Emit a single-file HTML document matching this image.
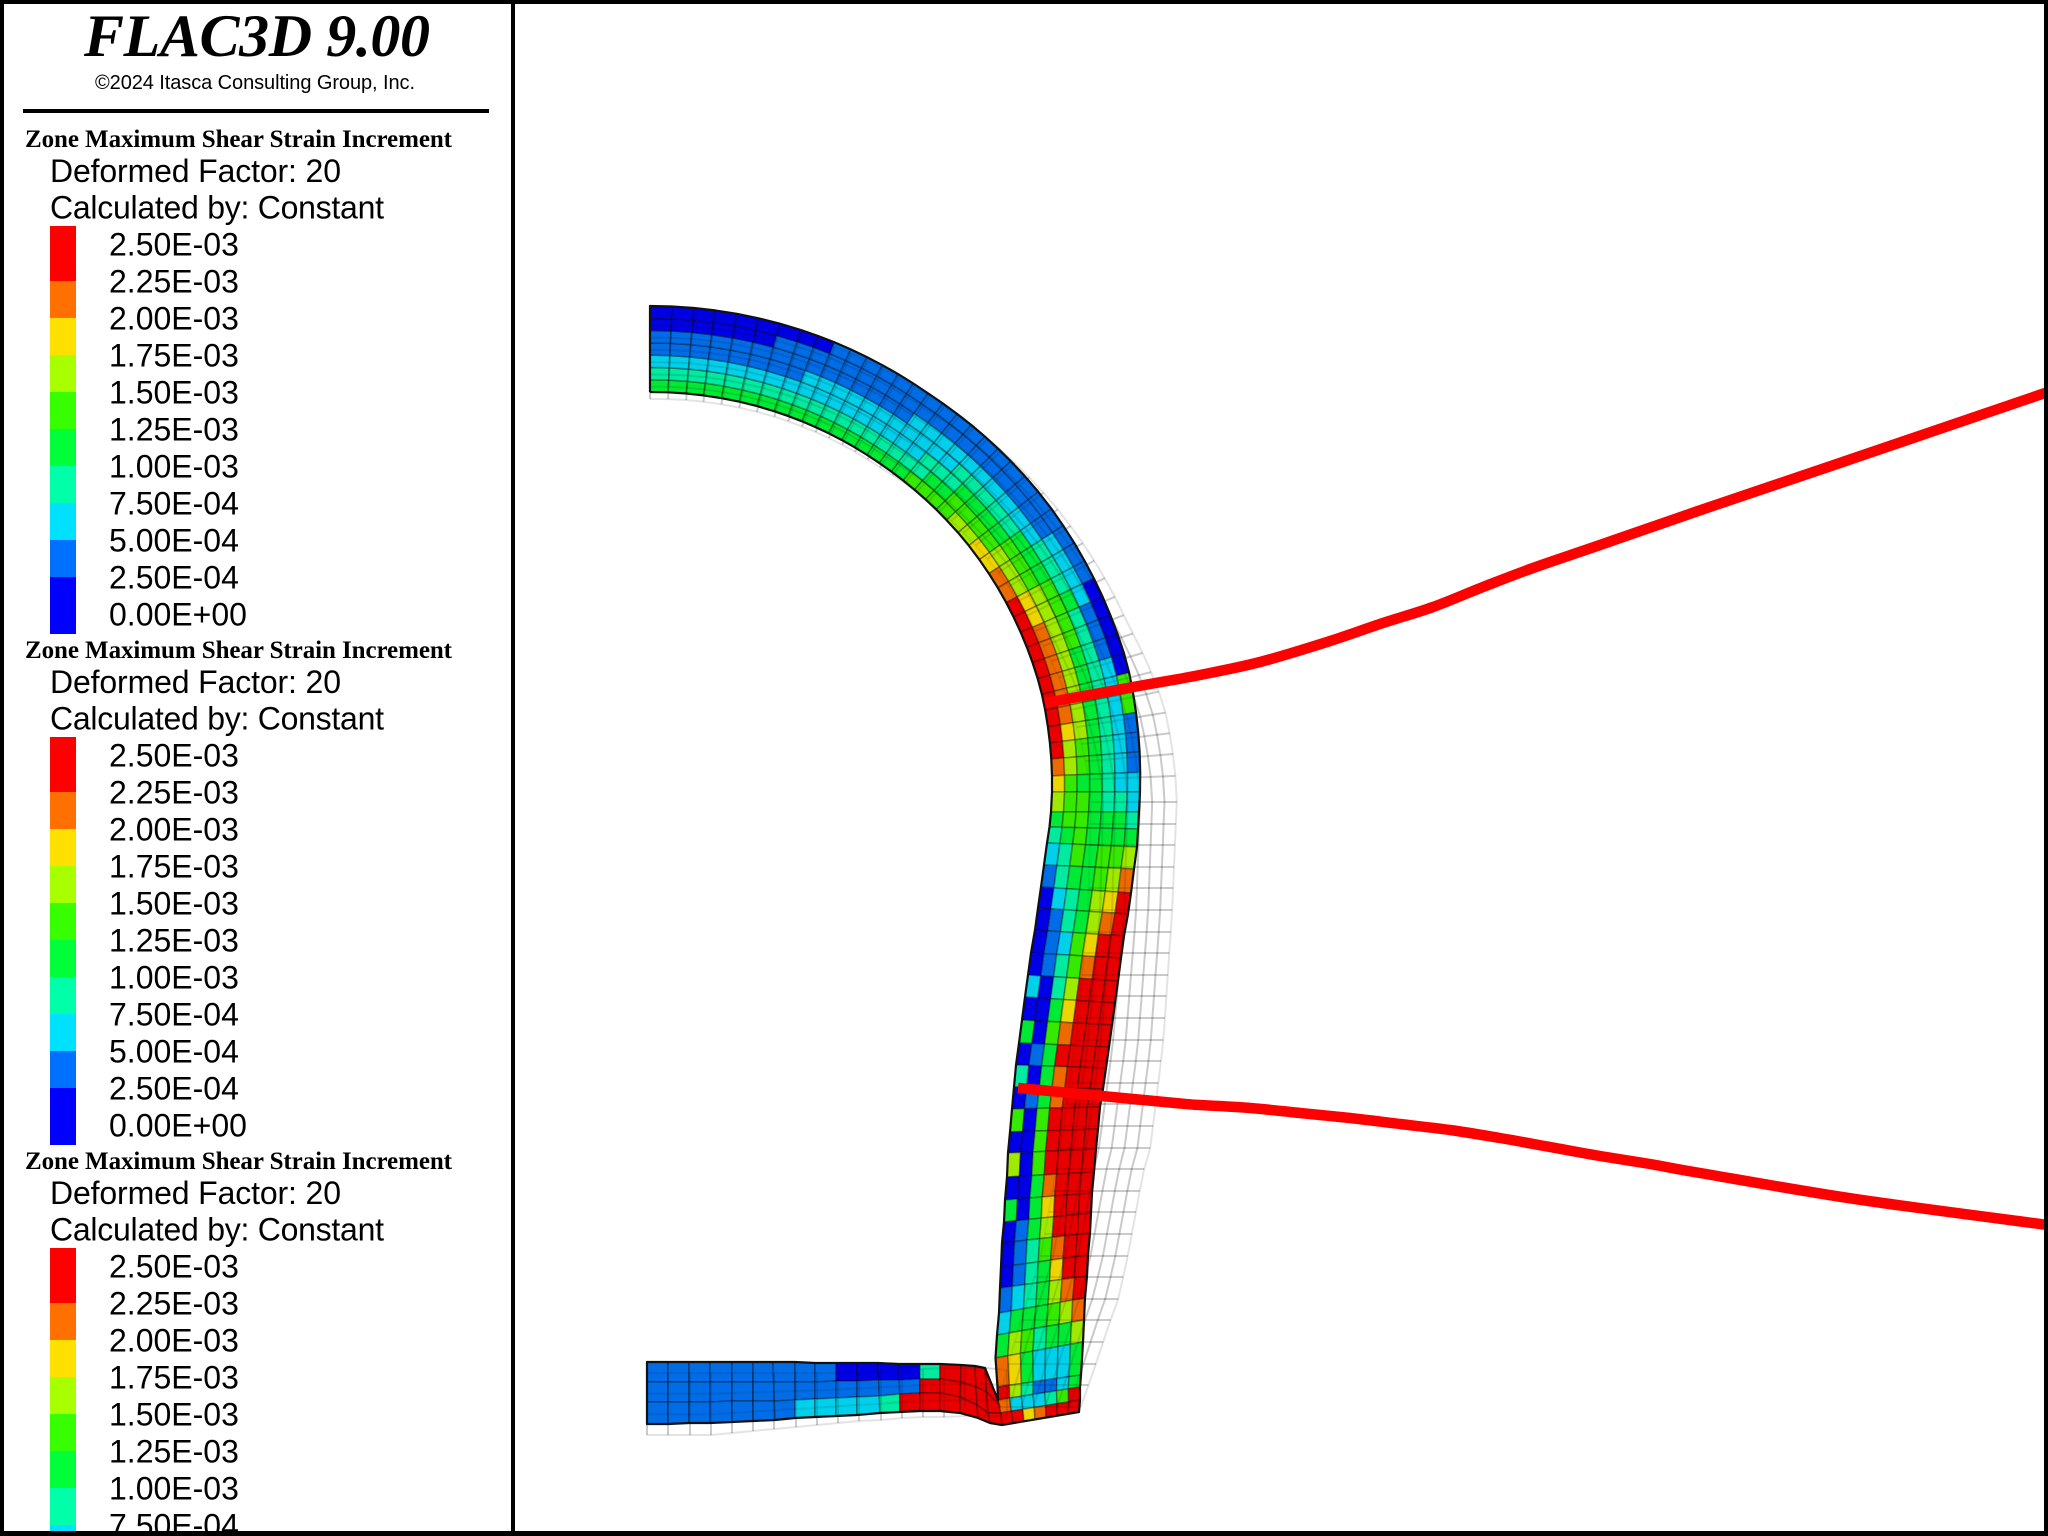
<!DOCTYPE html>
<html lang="en">
<head>
<meta charset="utf-8">
<title>FLAC3D Zone Maximum Shear Strain Increment</title>
<style>
  html, body { margin: 0; padding: 0; background: #fff; }
  #page { position: relative; width: 2048px; height: 1536px; overflow: hidden; background: #fff; }
  svg { position: absolute; left: 0; top: 0; display: block; }
  .sans { font-family: "Liberation Sans", sans-serif; fill: #000; }
  .serif { font-family: "Liberation Serif", serif; fill: #000; }
  .head { font-size: 25px; font-weight: bold; }
  .info { font-size: 32px; }
  .tick { font-size: 32px; }
</style>
</head>
<body>
<div id="page">
<svg id="plot" width="2048" height="1536" viewBox="0 0 2048 1536">
  <g id="ghost-back-layer"></g>
  <g id="zone-layer"></g>
  <g id="ghost-layer"></g>
  <g id="outline-layer"></g>
  <g id="cable-layer"></g>

  <rect x="4" y="4" width="507" height="1527" fill="#fff"/>
  <text class="serif" x="84" y="56" font-size="60" font-weight="bold" font-style="italic" textLength="346" lengthAdjust="spacing">FLAC3D 9.00</text>
  <text class="sans" x="95" y="89" font-size="20" textLength="320" lengthAdjust="spacing">©2024 Itasca Consulting Group, Inc.</text>
  <rect x="23" y="109" width="466" height="4" fill="#000"/>

  <g>
    <text class="serif head" x="25" y="147" textLength="427" lengthAdjust="spacing">Zone Maximum Shear Strain Increment</text>
    <text class="sans info" x="50" y="182" textLength="291" lengthAdjust="spacing">Deformed Factor: 20</text>
    <text class="sans info" x="50" y="218.5" textLength="334" lengthAdjust="spacing">Calculated by: Constant</text>
    <rect x="50" y="226" width="26" height="55" fill="#ff0000"/>
    <rect x="50" y="281" width="26" height="37" fill="#ff7000"/>
    <rect x="50" y="318" width="26" height="37" fill="#ffe000"/>
    <rect x="50" y="355" width="26" height="37" fill="#a8ff00"/>
    <rect x="50" y="392" width="26" height="37" fill="#38ff00"/>
    <rect x="50" y="429" width="26" height="37" fill="#00ff38"/>
    <rect x="50" y="466" width="26" height="37" fill="#00ffa8"/>
    <rect x="50" y="503" width="26" height="37" fill="#00e0ff"/>
    <rect x="50" y="540" width="26" height="37" fill="#0070ff"/>
    <rect x="50" y="577" width="26" height="57" fill="#0000ff"/>
    <text class="sans tick" x="109" y="255.5">2.50E-03</text>
    <text class="sans tick" x="109" y="292.5">2.25E-03</text>
    <text class="sans tick" x="109" y="329.5">2.00E-03</text>
    <text class="sans tick" x="109" y="366.5">1.75E-03</text>
    <text class="sans tick" x="109" y="403.5">1.50E-03</text>
    <text class="sans tick" x="109" y="440.5">1.25E-03</text>
    <text class="sans tick" x="109" y="477.5">1.00E-03</text>
    <text class="sans tick" x="109" y="514.5">7.50E-04</text>
    <text class="sans tick" x="109" y="551.5">5.00E-04</text>
    <text class="sans tick" x="109" y="588.5">2.50E-04</text>
    <text class="sans tick" x="109" y="625.5">0.00E+00</text>
  </g>

  <g transform="translate(0,511)">
    <text class="serif head" x="25" y="147" textLength="427" lengthAdjust="spacing">Zone Maximum Shear Strain Increment</text>
    <text class="sans info" x="50" y="182" textLength="291" lengthAdjust="spacing">Deformed Factor: 20</text>
    <text class="sans info" x="50" y="218.5" textLength="334" lengthAdjust="spacing">Calculated by: Constant</text>
    <rect x="50" y="226" width="26" height="55" fill="#ff0000"/>
    <rect x="50" y="281" width="26" height="37" fill="#ff7000"/>
    <rect x="50" y="318" width="26" height="37" fill="#ffe000"/>
    <rect x="50" y="355" width="26" height="37" fill="#a8ff00"/>
    <rect x="50" y="392" width="26" height="37" fill="#38ff00"/>
    <rect x="50" y="429" width="26" height="37" fill="#00ff38"/>
    <rect x="50" y="466" width="26" height="37" fill="#00ffa8"/>
    <rect x="50" y="503" width="26" height="37" fill="#00e0ff"/>
    <rect x="50" y="540" width="26" height="37" fill="#0070ff"/>
    <rect x="50" y="577" width="26" height="57" fill="#0000ff"/>
    <text class="sans tick" x="109" y="255.5">2.50E-03</text>
    <text class="sans tick" x="109" y="292.5">2.25E-03</text>
    <text class="sans tick" x="109" y="329.5">2.00E-03</text>
    <text class="sans tick" x="109" y="366.5">1.75E-03</text>
    <text class="sans tick" x="109" y="403.5">1.50E-03</text>
    <text class="sans tick" x="109" y="440.5">1.25E-03</text>
    <text class="sans tick" x="109" y="477.5">1.00E-03</text>
    <text class="sans tick" x="109" y="514.5">7.50E-04</text>
    <text class="sans tick" x="109" y="551.5">5.00E-04</text>
    <text class="sans tick" x="109" y="588.5">2.50E-04</text>
    <text class="sans tick" x="109" y="625.5">0.00E+00</text>
  </g>

  <g transform="translate(0,1022)">
    <text class="serif head" x="25" y="147" textLength="427" lengthAdjust="spacing">Zone Maximum Shear Strain Increment</text>
    <text class="sans info" x="50" y="182" textLength="291" lengthAdjust="spacing">Deformed Factor: 20</text>
    <text class="sans info" x="50" y="218.5" textLength="334" lengthAdjust="spacing">Calculated by: Constant</text>
    <rect x="50" y="226" width="26" height="55" fill="#ff0000"/>
    <rect x="50" y="281" width="26" height="37" fill="#ff7000"/>
    <rect x="50" y="318" width="26" height="37" fill="#ffe000"/>
    <rect x="50" y="355" width="26" height="37" fill="#a8ff00"/>
    <rect x="50" y="392" width="26" height="37" fill="#38ff00"/>
    <rect x="50" y="429" width="26" height="37" fill="#00ff38"/>
    <rect x="50" y="466" width="26" height="37" fill="#00ffa8"/>
    <rect x="50" y="503" width="26" height="37" fill="#00e0ff"/>
    <text class="sans tick" x="109" y="255.5">2.50E-03</text>
    <text class="sans tick" x="109" y="292.5">2.25E-03</text>
    <text class="sans tick" x="109" y="329.5">2.00E-03</text>
    <text class="sans tick" x="109" y="366.5">1.75E-03</text>
    <text class="sans tick" x="109" y="403.5">1.50E-03</text>
    <text class="sans tick" x="109" y="440.5">1.25E-03</text>
    <text class="sans tick" x="109" y="477.5">1.00E-03</text>
    <text class="sans tick" x="109" y="514.5">7.50E-04</text>
  </g>

  <rect x="0" y="0" width="2048" height="4" fill="#000"/>
  <rect x="0" y="1531" width="2048" height="5" fill="#000"/>
  <rect x="0" y="0" width="4" height="1536" fill="#000"/>
  <rect x="2044" y="0" width="4" height="1536" fill="#000"/>
  <rect x="511" y="0" width="4" height="1536" fill="#000"/>
</svg>
</div>
<script>
// Colour level per contour band (0 = 0.00E+00 band ... 9 = 2.50E-03 band)
const levelColors = ['#0000e6','#006ce6','#00d0ea','#00eaa0','#00ea35','#35ea00','#a0ea00','#ecd500','#ec6a00','#e80000'];

// Zone values along the arch: each row runs inner face to outer face
const archLevels = [
[4,3,2,1,1,0,0],[4,3,2,1,1,0,0],[4,3,2,1,1,0,0],[4,3,2,1,1,0,0],[4,3,2,1,1,0,0],[4,3,2,1,1,0,0],
[4,3,2,1,1,1,0],[4,3,2,1,1,1,0],[4,3,2,2,1,1,0],
[4,3,2,2,1,1,1],[4,3,2,2,1,1,1],[4,3,2,2,1,1,1],[4,3,2,2,1,1,1],[4,3,2,2,1,1,1],[4,3,2,2,1,1,1],
[4,3,2,2,2,1,1],[4,3,2,2,2,1,1],[5,3,3,2,2,1,1],[5,4,3,2,2,1,1],[5,4,3,3,2,1,1],[5,5,4,3,2,1,1],
[6,5,4,3,2,1,1],[6,5,4,3,2,1,1],[7,5,4,3,2,1,1],[7,6,5,4,2,1,1],[8,6,5,4,3,2,1],[8,6,5,4,3,2,1],
[9,7,6,5,3,2,1],[9,7,6,5,4,2,0],[9,8,6,5,3,1,0],[9,8,6,5,3,1,0],[9,8,6,4,3,1,0],[9,8,6,4,3,2,0],
[9,8,6,4,3,2,5],[9,8,6,4,3,2,5],[9,7,6,4,3,2,1],[9,6,5,4,3,2,1],[8,6,5,4,3,2,1],[7,5,4,4,3,2,2]
];
// Zone values down the wall
const wallLevels = [
[6,5,5,4,3,3,2],[4,5,5,4,4,4,3],[3,4,5,4,4,4,4],[2,3,5,4,5,5,6],[1,3,4,4,5,6,8],[0,2,3,4,6,7,9],
[0,1,3,4,6,8,9],[0,1,2,5,7,9,9],[0,1,3,5,8,9,9],[2,0,3,6,9,9,9],[0,0,4,7,9,9,9],[4,0,5,8,9,9,9],
[0,1,4,9,9,9,9],[3,0,4,8,9,9,9],[0,1,4,8,9,9,9],[5,0,5,9,9,9,9],[0,0,5,9,9,9,9],[6,0,5,9,9,9,9],
[0,0,4,8,9,9,9],[4,0,4,7,9,9,9],[0,1,4,6,9,9,9],[0,1,3,5,8,9,9],[0,1,3,4,7,9,9],[1,2,3,4,6,8,9],
[2,4,4,4,5,6,8],[4,6,5,3,4,4,6],[8,7,4,2,2,2,4],[9,6,3,1,1,2,4],[8,2,2,2,3,5,9],[9,9,7,8,9,9,9]
];
// Zone values in the invert (top, middle, bottom rows; left to right)
const footLevelsTop = [1,1,1,1,1,1,1,1,1,0,0,0,0,3,9,9,9,9];
const footLevelsMid = [1,1,1,1,1,1,1,1,1,1,1,1,1,9,9,9,9,9];
const footLevelsLow = [1,1,1,1,1,1,1,2,2,2,2,3,9,9,9,9,9,9];

// Deformed mesh geometry, model units
const archAngles = [0,2.6,5.2,7.7,10.3,12.9,15.5,18.1,20.2,22.3,24.4,26.5,28.6,30.7,32.8,34.9,37,39.1,41.2,43.3,45.4,47.5,49.9,52.3,54.8,57.2,59.6,62,64.3,66.7,69,71.3,73.7,76,78.3,80.7,83,85.3,87.7,90];
const archKnotAngles = [0,35,53,75,90];
const archInnerRadii = [40,40.1,40.3,40.4,40.2];
const archOuterRadii = [48.6,48.6,49.1,49.4,49];
const wallInnerX = [40.2,40.1,39.95,39.7,39.4,39.1,38.8,38.5,38.1,37.8,37.5,37.2,36.9,36.6,36.4,36.2,36,35.8,35.7,35.5,35.4,35.2,35.1,35,34.9,34.7,34.55,34.75,34.8,35,35.2];
const wallInnerY = [0,-2,-3.5,-5.1,-7.3,-9.5,-11.6,-13.8,-16.1,-18.3,-20.5,-22.8,-25.1,-27.3,-29.5,-31.7,-34,-36.1,-38.5,-40.8,-43,-45.1,-47.5,-49.6,-52.1,-54.3,-56.6,-59.5,-60.8,-62.1,-63.3];
const wallOuterX = [49,48.9,48.8,48.7,48.4,48.1,47.8,47.4,47.1,46.8,46.5,46.2,45.9,45.6,45.3,45,44.8,44.6,44.4,44.2,44.1,44,43.8,43.7,43.5,43.4,43.3,43.1,43,43,42.9];
const wallOuterY = [0,-2,-3.7,-5.5,-7.7,-10.1,-12.2,-14.4,-16.6,-18.9,-21.1,-23.3,-25.5,-27.6,-29.7,-31.5,-33.7,-35.7,-38,-40.1,-42.1,-44.1,-46.3,-48.4,-50.6,-52.8,-55,-58.3,-59.5,-60.8,-62];
const footTopX = [-0.3,1.8,3.9,6,8.2,10.3,12.3,14.5,16.5,18.6,20.7,22.8,24.9,27,29,31.1,32.5,33.5,34.8];
const footBottomX = [-0.3,1.8,3.9,6,8.2,10.3,12.5,14.5,16.5,18.6,20.7,23,25,27,29,31,32.8,34,35.2];
const footY0 = [-57,-57,-57,-57,-57,-57,-57,-57,-57.1,-57.1,-57.1,-57.1,-57.2,-57.2,-57.2,-57.3,-57.4,-57.6,-60.8];
const footY1 = [-59,-59,-59,-59,-59,-59,-59,-59,-59,-58.9,-58.9,-58.8,-58.8,-58.7,-58.7,-59,-59.5,-60,-61.3];
const footY2 = [-61,-61,-61,-61,-60.9,-60.9,-60.9,-60.8,-60.7,-60.6,-60.5,-60.4,-60.2,-60.1,-60.1,-60.5,-61.3,-62.1,-62.1];
const footY3 = [-63.2,-63.2,-63.1,-63.1,-63,-62.9,-62.8,-62.6,-62.5,-62.4,-62.3,-62.1,-62,-61.9,-61.9,-62.1,-62.6,-63.1,-63.3];

// Undeformed mesh geometry, model units
const ghostKnotAngles = [0,35,50,70,80,90];
const ghostInnerRadii = [39.8,40.2,41,42.2,43.2,44.1];
const ghostOuterRadii = [48.4,48.8,49.6,50.8,52.2,52.7];
const ghostOuterWallY = [-0.5,-12.2,-25.3,-35.8,-38.1,-42.5,-46.8,-50.8,-53.5,-56.6,-62];
const ghostOuterWallX = [52.7,52.2,51.3,50,49.3,48.5,47.7,46.8,45.8,44.8,42.9];
const ghostInnerWallY = [-0.5,-12.2,-25.3,-35.8,-46.8,-50.8,-56.6,-61.3];
const ghostInnerWallX = [44.1,43.8,42.5,41,39,37.7,36,34.8];
const ghostWallRows = [-1,-3.2,-5.3,-7.5,-9.6,-11.8,-14,-16.1,-18.3,-20.4,-22.6,-24.8,-26.9,-29.1,-31.2,-33.4,-35.6,-37.7,-39.9,-42,-44.2,-46.4,-48.5,-50.7,-52.8,-55,-57.2,-59.3,-61.5];
const ghostFootX = [-0.3,1.8,4,6.1,8.2,10.3,12.4,14.6,16.7,18.8,20.9,23.1,25.2,27.3,29.4,31.5,33.6,35.7];
const ghostFootBottomY = [-64.3,-64.3,-64.3,-64.3,-64.1,-63.9,-63.7,-63.5,-63.3,-63.1,-62.9,-62.8,-62.6,-62.5,-62.5,-62.4,-62.4,-62.4];
const ghostFootTopY = [-58.1,-58.1,-58.1,-58.1,-58.1,-58.1,-58.1,-58.1,-58.1,-58.1,-58,-57.9,-57.8,-57.7,-57.6,-57.6,-57.6,-57.8];

// Cable traces, model units
const upperCableX = [39.5,45,50,55,61,67.7,73.3,78.3,83.3,88.3,95,104.8,117.8,139.8];
const upperCableY = [8.9,9.9,10.8,11.7,13,15,16.9,18.5,20.5,22.4,24.7,28.1,32.5,40];
const lowerCableX = [36.8,52.5,55,60,65,70,75,80,85,90,95,100,105,120.5,139.8];
const lowerCableY = [-29.6,-31.1,-31.3,-31.6,-32.1,-32.6,-33.2,-33.8,-34.6,-35.5,-36.4,-37.2,-38.1,-40.7,-43.3];

const SVGNS = 'http://www.w3.org/2000/svg';
const xAxis = v => 650 + 10 * v;
const yAxis = v => 792 - 10 * v;
const colCount = 7;

function knotValue(knots, values, t) {
  if (t <= knots[0]) return values[0];
  for (let i = 1; i < knots.length; i++) {
    if (t <= knots[i]) {
      const f = (t - knots[i - 1]) / (knots[i] - knots[i - 1]);
      return values[i - 1] + f * (values[i] - values[i - 1]);
    }
  }
  return values[values.length - 1];
}
function descendingValue(ys, xs, y) {
  return knotValue(ys.map(v => -v), xs, -y);
}
function pts(list) {
  return list.map(p => xAxis(p[0]).toFixed(1) + ',' + yAxis(p[1]).toFixed(1)).join(' ');
}
function smoothPath(xs, ys) {
  const p = xs.map((x, i) => [xAxis(x), yAxis(ys[i])]);
  let d = 'M' + p[0][0].toFixed(1) + ' ' + p[0][1].toFixed(1);
  for (let i = 0; i < p.length - 1; i++) {
    const p0 = p[Math.max(i - 1, 0)];
    const p1 = p[i];
    const p2 = p[i + 1];
    const p3 = p[Math.min(i + 2, p.length - 1)];
    const c1x = p1[0] + (p2[0] - p0[0]) / 6;
    const c1y = p1[1] + (p2[1] - p0[1]) / 6;
    const c2x = p2[0] - (p3[0] - p1[0]) / 6;
    const c2y = p2[1] - (p3[1] - p1[1]) / 6;
    d += ' C' + c1x.toFixed(1) + ' ' + c1y.toFixed(1) + ' ' + c2x.toFixed(1) + ' ' + c2y.toFixed(1) + ' ' + p2[0].toFixed(1) + ' ' + p2[1].toFixed(1);
  }
  return d;
}
function rad(d) { return d * Math.PI / 180; }

function archNode(row, col) {
  const a = archAngles[row];
  const ri = knotValue(archKnotAngles, archInnerRadii, a);
  const ro = knotValue(archKnotAngles, archOuterRadii, a);
  const r = ri + (ro - ri) * col / colCount;
  return [r * Math.sin(rad(a)), r * Math.cos(rad(a))];
}
function wallNode(row, col) {
  const f = col / colCount;
  return [wallInnerX[row] + (wallOuterX[row] - wallInnerX[row]) * f,
          wallInnerY[row] + (wallOuterY[row] - wallInnerY[row]) * f];
}
function footNode(col, row) {
  const ys = [footY0, footY1, footY2, footY3][row];
  return [footTopX[col] + (footBottomX[col] - footTopX[col]) * row / 3, ys[col]];
}

const zoneLayer = document.getElementById('zone-layer');
function drawZone(a, b, c, d, level) {
  const el = document.createElementNS(SVGNS, 'polygon');
  
  
  el.setAttribute('points', pts([a, b, c, d]));
  el.setAttribute('fill', levelColors[level]);
  el.setAttribute('stroke', '#000');
  el.setAttribute('stroke-opacity', '0.32');
  el.setAttribute('stroke-width', '1.6');
  zoneLayer.appendChild(el);
}
archLevels.forEach((row, r) => row.forEach((lv, c) => {
  drawZone(archNode(r, c), archNode(r, c + 1), archNode(r + 1, c + 1), archNode(r + 1, c), lv);
}));
wallLevels.forEach((row, r) => row.forEach((lv, c) => {
  drawZone(wallNode(r, c), wallNode(r, c + 1), wallNode(r + 1, c + 1), wallNode(r + 1, c), lv);
}));
[footLevelsTop, footLevelsMid, footLevelsLow].forEach((row, r) => row.forEach((lv, c) => {
  drawZone(footNode(c, r), footNode(c + 1, r), footNode(c + 1, r + 1), footNode(c, r + 1), lv);
}));

// Undeformed mesh: stronger outside the zones, faint where seen through them
const ghostLayer = document.getElementById('ghost-layer');
const ghostBackLayer = document.getElementById('ghost-back-layer');
function drawGhost(list, alpha) {
  const el = document.createElementNS(SVGNS, 'polyline');
  
  
  el.setAttribute('points', pts(list));
  el.setAttribute('fill', 'none');
  el.setAttribute('stroke', '#000');
  el.setAttribute('stroke-opacity', alpha * 0.55);
  el.setAttribute('stroke-width', '2');
  ghostLayer.appendChild(el);
  const under = document.createElementNS(SVGNS, 'polyline');
  
  
  under.setAttribute('points', pts(list));
  under.setAttribute('fill', 'none');
  under.setAttribute('stroke', '#000');
  under.setAttribute('stroke-opacity', alpha * 0.55);
  under.setAttribute('stroke-width', '2');
  ghostBackLayer.appendChild(under);
}
function ghostArchNode(a, col) {
  const ri = knotValue(ghostKnotAngles, ghostInnerRadii, a);
  const ro = knotValue(ghostKnotAngles, ghostOuterRadii, a);
  const r = ri + (ro - ri) * col / colCount;
  return [r * Math.sin(rad(a)), -0.5 + r * Math.cos(rad(a))];
}
function ghostWallNode(y, col) {
  const xi = descendingValue(ghostInnerWallY, ghostInnerWallX, y);
  const xo = descendingValue(ghostOuterWallY, ghostOuterWallX, y);
  return [xi + (xo - xi) * col / colCount, y];
}
const ghostArchAngles = archAngles.slice(0, -1);
for (let c = 0; c <= colCount; c++) {
  const line = ghostArchAngles.map(a => ghostArchNode(a, c)).concat(ghostWallRows.map(y => ghostWallNode(y, c)));
  drawGhost(line, (c === 0 || c === colCount) ? 0.1 : 0.2);
}
ghostArchAngles.forEach(a => {
  drawGhost([ghostArchNode(a, 0), ghostArchNode(a, colCount)], 0.2);
});
ghostWallRows.forEach(y => {
  drawGhost([ghostWallNode(y, 0), ghostWallNode(y, colCount)], 0.2);
});
ghostFootX.forEach((x, i) => {
  drawGhost([[x, ghostFootTopY[i]], [x, ghostFootBottomY[i]]], 0.2);
});
[0, 1 / 3, 2 / 3, 1].forEach((f, i) => {
  drawGhost(ghostFootX.map((x, k) => [x, ghostFootBottomY[k] + (ghostFootTopY[k] - ghostFootBottomY[k]) * f]), i === 0 ? 0.1 : 0.15);
});

// Mesh outline
const outlineLayer = document.getElementById('outline-layer');
const outlinePath = [];
archAngles.forEach((a, r) => outlinePath.push(archNode(r, 0)));
for (let r = 0; r <= 28; r++) outlinePath.push(wallNode(r, 0));
for (let c = footTopX.length - 1; c >= 0; c--) outlinePath.push(footNode(c, 0));
for (let c = 0; c < footTopX.length; c++) outlinePath.push(footNode(c, 3));
outlinePath.push(wallNode(30, 0));
for (let r = 30; r >= 0; r--) outlinePath.push(wallNode(r, colCount));
for (let r = archAngles.length - 1; r >= 0; r--) outlinePath.push(archNode(r, colCount));
outlinePath.push(archNode(0, 0));
const outlineEl = document.createElementNS(SVGNS, 'polyline');


outlineEl.setAttribute('points', pts(outlinePath));
outlineEl.setAttribute('fill', 'none');
outlineEl.setAttribute('stroke', '#111');
outlineEl.setAttribute('stroke-width', '2.2');
outlineEl.setAttribute('stroke-linejoin', 'round');
outlineLayer.appendChild(outlineEl);

// Cables
const cableLayer = document.getElementById('cable-layer');
const upperCable = document.createElementNS(SVGNS, 'path');


upperCable.setAttribute('d', smoothPath(upperCableX, upperCableY));
upperCable.setAttribute('fill', 'none');
upperCable.setAttribute('stroke', '#ff0000');
upperCable.setAttribute('stroke-width', '10.5');
upperCable.setAttribute('stroke-linejoin', 'round');
cableLayer.appendChild(upperCable);
const lowerCable = document.createElementNS(SVGNS, 'path');


lowerCable.setAttribute('d', smoothPath(lowerCableX, lowerCableY));
lowerCable.setAttribute('fill', 'none');
lowerCable.setAttribute('stroke', '#ff0000');
lowerCable.setAttribute('stroke-width', '10.5');
lowerCable.setAttribute('stroke-linejoin', 'round');
cableLayer.appendChild(lowerCable);
</script>
</body>
</html>
